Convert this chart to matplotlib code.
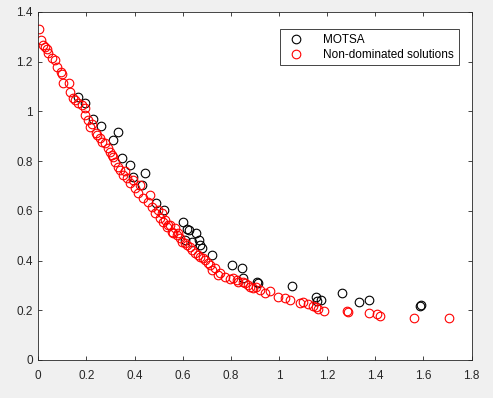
import matplotlib
matplotlib.use("Agg")
import matplotlib.pyplot as plt
from matplotlib.ticker import FuncFormatter

plt.rcParams['font.family'] = ['Liberation Sans', 'DejaVu Sans']

# MOTSA solutions (black)
motsa_x = [0.165, 0.194, 0.228, 0.261, 0.332, 0.311, 0.348, 0.381, 0.444, 0.394,
           0.431, 0.490, 0.523, 0.602, 0.627, 0.656, 0.610, 0.639, 0.619, 0.669,
           0.673, 0.681, 0.722, 0.806, 0.847, 0.852, 0.910, 0.914, 1.055, 1.155,
           1.159, 1.176, 1.263, 1.334, 1.376, 1.588, 1.592]
motsa_y = [1.058, 1.034, 0.969, 0.941, 0.917, 0.885, 0.813, 0.784, 0.752, 0.736,
           0.704, 0.632, 0.603, 0.555, 0.523, 0.511, 0.483, 0.475, 0.527, 0.483,
           0.463, 0.451, 0.422, 0.382, 0.370, 0.330, 0.314, 0.310, 0.298, 0.253,
           0.237, 0.241, 0.270, 0.233, 0.241, 0.219, 0.221]

# non-dominated solutions (red)
nd_x = [0.003, 0.011, 0.020, 0.028, 0.036, 0.040, 0.057, 0.069, 0.078, 0.094,
        0.099, 0.103, 0.128, 0.132, 0.144, 0.153, 0.165, 0.182, 0.194, 0.194,
        0.207, 0.215, 0.244, 0.265, 0.277, 0.290, 0.298, 0.311, 0.319, 0.332,
        0.340, 0.352, 0.369, 0.381, 0.402, 0.415, 0.436, 0.456, 0.473, 0.485,
        0.506, 0.519, 0.535, 0.556, 0.577, 0.589, 0.610, 0.631, 0.527, 0.540,
        0.560, 0.598, 0.619, 0.652, 0.673, 0.693, 0.706, 0.735, 0.756, 0.777,
        0.797, 0.826, 0.851, 0.810, 0.831, 0.860, 0.881, 0.893, 0.922, 0.943,
        0.997, 1.026, 1.047, 1.089, 1.122, 1.143, 1.163, 1.188, 1.284, 1.288,
        1.376, 1.409, 1.421, 1.559, 1.708,
        0.224, 0.240, 0.257, 0.307, 0.361, 0.394, 0.423, 0.465, 0.498, 0.514,
        0.548, 0.569, 0.581, 0.640, 0.665, 0.685, 0.714, 0.722, 0.747, 0.872,
        0.906, 0.964, 1.101, 1.155]
nd_y = [1.331, 1.287, 1.267, 1.259, 1.251, 1.235, 1.215, 1.207, 1.179, 1.159,
        1.150, 1.114, 1.114, 1.078, 1.054, 1.046, 1.034, 1.026, 1.014, 0.986,
        0.965, 0.937, 0.905, 0.877, 0.873, 0.853, 0.837, 0.817, 0.796, 0.776,
        0.764, 0.744, 0.732, 0.712, 0.692, 0.672, 0.652, 0.636, 0.615, 0.591,
        0.571, 0.555, 0.535, 0.515, 0.503, 0.491, 0.471, 0.455, 0.563, 0.543,
        0.511, 0.475, 0.463, 0.430, 0.414, 0.402, 0.390, 0.370, 0.350, 0.334,
        0.326, 0.322, 0.314, 0.330, 0.314, 0.310, 0.294, 0.290, 0.282, 0.270,
        0.253, 0.249, 0.241, 0.229, 0.225, 0.217, 0.205, 0.197, 0.197, 0.193,
        0.189, 0.185, 0.177, 0.169, 0.169,
        0.949, 0.913, 0.893, 0.825, 0.760, 0.724, 0.704, 0.664, 0.603, 0.591,
        0.543, 0.531, 0.511, 0.442, 0.422, 0.410, 0.382, 0.362, 0.342, 0.302,
        0.294, 0.278, 0.233, 0.213]

fig = plt.figure(figsize=(4.93, 3.98), dpi=100, facecolor='#f0f0f0')
ax = fig.add_axes([0.0777, 0.0955, 0.8787, 0.8744])

ax.plot(motsa_x, motsa_y, 'o', mfc='none', mec='black', ms=6.2, mew=0.8, label='MOTSA')
ax.plot(nd_x, nd_y, 'o', mfc='none', mec='red', ms=6.2, mew=0.8, label='Non-dominated solutions')

ax.set_xlim(0, 1.8)
ax.set_ylim(0, 1.4)
ax.set_xticks([i * 0.2 for i in range(10)])
ax.set_yticks([i * 0.2 for i in range(8)])
fmt = FuncFormatter(lambda v, p: '%g' % round(v, 1))
ax.xaxis.set_major_formatter(fmt)
ax.yaxis.set_major_formatter(fmt)
ax.tick_params(direction='in', top=True, right=True, length=3, width=0.6,
               labelsize=8.5, colors='#262626')
ax.tick_params(axis='x', pad=7.5)
ax.tick_params(axis='y', pad=4)
for s in ax.spines.values():
    s.set_color('#262626')
    s.set_linewidth(0.6)

leg = ax.legend(loc='upper right', bbox_to_anchor=(0.971, 0.951), borderaxespad=0,
                fontsize=8.5, fancybox=False, edgecolor='#262626', framealpha=1,
                handletextpad=1.3, borderpad=0.4, labelspacing=0.25)
leg.get_frame().set_linewidth(0.6)

fig.savefig('out.png', dpi=100, facecolor=fig.get_facecolor())
